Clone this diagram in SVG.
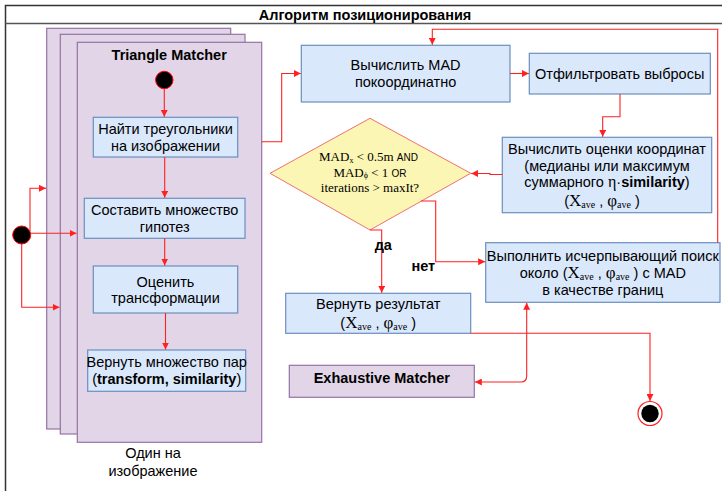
<svg xmlns="http://www.w3.org/2000/svg" width="722" height="491" viewBox="0 0 722 491">
<defs>
<style>
.t{font-family:"Liberation Sans",Arial,sans-serif;font-size:14.5px;fill:#000;text-anchor:middle}
.b{font-weight:bold}
.s{font-family:"Liberation Serif","Times New Roman",serif}
.blue{fill:#DAE8FC;stroke:#6C8EBF;stroke-width:1.2}
.pur{fill:#E1D5E7;stroke:#9673A6;stroke-width:1.2}
.e{fill:none;stroke:#FF2020;stroke-width:1.1}
</style>
<marker id="a" viewBox="0 0 10 10" refX="10" refY="5" markerWidth="7" markerHeight="7" markerUnits="userSpaceOnUse" orient="auto-start-reverse">
<path d="M0,0 L10,5 L0,10 Z" fill="#FF2020"/>
</marker>
</defs>
<rect width="722" height="491" fill="#fff"/>
<g id="frame">
<path d="M5.5,491 V5.5 H722" fill="none" stroke="#333" stroke-width="1.5"/>
<line x1="5.5" y1="23.5" x2="722" y2="23.5" stroke="#555" stroke-width="1.5"/>
<text class="t b" x="365" y="19.5" font-size="15">Алгоритм позиционирования</text>
</g>
<g id="triangle-matcher">
<rect class="pur" x="46.7" y="28.3" width="184" height="400.7"/>
<rect class="pur" x="60.3" y="34.3" width="184.7" height="399.7"/>
<rect class="pur" x="77.3" y="42.3" width="184.4" height="400"/>
<text class="t b" x="169.2" y="59.5" font-size="14">Triangle Matcher</text>
<text class="t" x="153" y="458" font-size="15.5">Один на</text>
<text class="t" x="153" y="475.5" font-size="15.5">изображение</text>
</g>
<g id="start-outer"><circle cx="21.7" cy="235" r="9" fill="#000" stroke="#F00" stroke-width="1"/></g>
<g id="start-inner"><circle cx="164.3" cy="80" r="8.7" fill="#000" stroke="#F00" stroke-width="1"/></g>
<g id="find-triangles">
<rect class="blue" x="93.3" y="117.3" width="144.4" height="39.7"/>
<text class="t" x="165.5" y="134">Найти треугольники</text>
<text class="t" x="165.5" y="151">на изображении</text>
</g>
<g id="hypotheses">
<rect class="blue" x="84.3" y="198.3" width="160.7" height="40"/>
<text class="t" x="164.7" y="215">Составить множество</text>
<text class="t" x="164.7" y="231.5">гипотез</text>
</g>
<g id="estimate">
<rect class="blue" x="93.3" y="266" width="144.4" height="47"/>
<text class="t" x="165.5" y="286.5">Оценить</text>
<text class="t" x="165.5" y="303.3">трансформации</text>
</g>
<g id="return-pairs">
<rect class="blue" x="87.7" y="350" width="158" height="41.3"/>
<text class="t" x="166.7" y="367.3">Вернуть множество пар</text>
<text class="t" x="166.7" y="384.3">(<tspan class="b">transform, similarity</tspan>)</text>
</g>
<g id="mad">
<rect class="blue" x="301.3" y="45.3" width="208.7" height="56.7"/>
<text class="t" x="405.6" y="70">Вычислить MAD</text>
<text class="t" x="405.6" y="86.7">покоординатно</text>
</g>
<g id="filter">
<rect class="blue" x="529.3" y="53.3" width="181" height="40.7"/>
<text class="t" x="619.7" y="78.5">Отфильтровать выбросы</text>
</g>
<g id="estimates">
<rect class="blue" x="502.3" y="137.3" width="209.4" height="75.4"/>
<text class="t" x="607" y="154">Вычислить оценки координат</text>
<text class="t" x="607" y="170.7">(медианы или максимум</text>
<text class="t" x="607" y="187.3">суммарного <tspan class="s" font-size="16">η</tspan>·<tspan class="b">similarity</tspan>)</text>
<text class="t" x="602" y="206">(<tspan class="s" font-size="17">X</tspan><tspan class="s" font-size="10" dy="2">ave</tspan><tspan dy="-2"> , </tspan><tspan class="s" font-size="17">φ</tspan><tspan class="s" font-size="10" dy="2">ave</tspan><tspan dy="-2">  )</tspan></text>
</g>
<g id="decision">
<path d="M370,118.3 L470.7,173.3 L370,230 L270,173.3 Z" fill="#FCF6B4" stroke="#F07070" stroke-width="1"/>
<text class="s" x="368.5" y="161" font-size="13" text-anchor="middle">MAD<tspan font-size="8" dy="1.5">x</tspan><tspan dy="-1.5"> &lt; 0.5m </tspan><tspan font-family="Liberation Sans,Arial,sans-serif" font-size="10">AND</tspan></text>
<text class="s" x="370" y="176.5" font-size="13" text-anchor="middle">MAD<tspan font-size="8" dy="1.5">ϕ</tspan><tspan dy="-1.5"> &lt; 1    </tspan><tspan font-family="Liberation Sans,Arial,sans-serif" font-size="10">OR</tspan></text>
<text class="s" x="370" y="192" font-size="13" text-anchor="middle">iterations &gt; maxIt?</text>
</g>
<g id="exhaustive-search">
<rect class="blue" x="485.7" y="242.7" width="234.3" height="59.6"/>
<text class="t" x="602.8" y="261">Выполнить исчерпывающий поиск</text>
<text class="t" x="602.8" y="278.3">около (<tspan class="s" font-size="17">X</tspan><tspan class="s" font-size="10" dy="2">ave</tspan><tspan dy="-2"> , </tspan><tspan class="s" font-size="17">φ</tspan><tspan class="s" font-size="10" dy="2">ave</tspan><tspan dy="-2">  ) с MAD</tspan></text>
<text class="t" x="602.8" y="295">в качестве границ</text>
</g>
<g id="return-result">
<rect class="blue" x="285.7" y="293.3" width="185" height="40"/>
<text class="t" x="378.2" y="309.3">Вернуть результат</text>
<text class="t" x="378.2" y="328">(<tspan class="s" font-size="17">X</tspan><tspan class="s" font-size="10" dy="2">ave</tspan><tspan dy="-2"> , </tspan><tspan class="s" font-size="17">φ</tspan><tspan class="s" font-size="10" dy="2">ave</tspan><tspan dy="-2">  )</tspan></text>
</g>
<g id="exhaustive-matcher">
<rect class="pur" x="289.3" y="365.3" width="185" height="32"/>
<text class="t b" x="381.8" y="383.3" font-size="14">Exhaustive Matcher</text>
</g>
<g id="end">
<circle cx="650" cy="413.5" r="12" fill="#fff" stroke="#FF2020" stroke-width="1.2"/>
<circle cx="650" cy="413.5" r="8.7" fill="#000"/>
</g>
<g id="connectors">
<path class="e" d="M30,231 V188.3 H46" marker-end="url(#a)"/>
<path class="e" d="M31,233.3 H76.5" marker-end="url(#a)"/>
<path class="e" d="M21.7,244 V307.3 H59.5" marker-end="url(#a)"/>
<path class="e" d="M164.3,88.7 V116.8" marker-end="url(#a)"/>
<path class="e" d="M164.7,157 V197.8" marker-end="url(#a)"/>
<path class="e" d="M164.7,238.3 V265.5" marker-end="url(#a)"/>
<path class="e" d="M165.5,313 V349.5" marker-end="url(#a)"/>
<path class="e" d="M261.7,141.7 H281.7 V73.5 H300.8" marker-end="url(#a)"/>
<path class="e" d="M510,73.5 H528.8" marker-end="url(#a)"/>
<path class="e" d="M620,94 V116.7 H602.7 V136.8" marker-end="url(#a)"/>
<path class="e" d="M502.3,174.5 H490 V173.5 H471.2" marker-end="url(#a)"/>
<path class="e" d="M370,230 H381.7 V292.8" marker-end="url(#a)"/>
<path class="e" d="M421,201 H435.7 V261.7 H485.2" marker-end="url(#a)"/>
<path class="e" d="M717.7,242.7 V29.3 H432.3 V44.8" marker-end="url(#a)"/>
<path class="e" d="M470.7,333.3 H650 V401" marker-end="url(#a)"/>
<path class="e" d="M474.8,382 H521 Q526.7,382 526.7,376 V302.8" marker-start="url(#a)" marker-end="url(#a)"/>
<text class="t b" x="383.3" y="250" font-size="12.5">да</text>
<text class="t b" x="423.3" y="271" font-size="12.5">нет</text>
</g>
</svg>
